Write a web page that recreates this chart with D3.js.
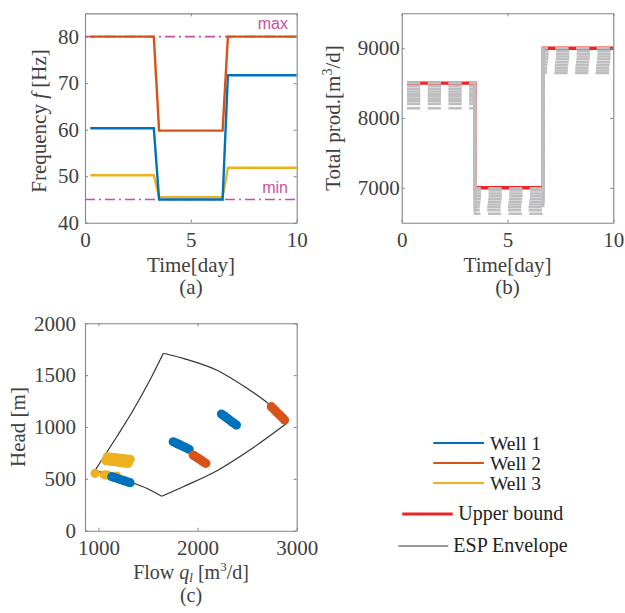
<!DOCTYPE html>
<html><head><meta charset="utf-8">
<script src="https://cdn.jsdelivr.net/npm/d3@7"></script>
<style>body{margin:0;background:#fff;} svg{display:block;}</style>
</head><body>
<svg id="chart" width="625" height="613"></svg>
<script>
// ---------------- DATA ----------------
// (a) frequencies
const timeA = [0.25, 3.25, 3.5, 6.5, 6.75, 10];
const freqWell1 = [60.3, 60.3, 45.0, 45.0, 71.7, 71.7];
const freqWell2 = [80.0, 80.0, 59.8, 59.8, 80.0, 80.0];
const freqWell3 = [50.2, 50.2, 45.5, 45.5, 51.8, 51.8];
const freqMax = 80, freqMin = 45;
const ticksA_x = [0, 5, 10];
const ticksA_y = [40, 50, 60, 70, 80];

// (b) total production
const timeB = [0.25, 3.46, 3.46, 6.69, 6.69, 10];
const upperBound = [8500, 8500, 7000, 7000, 9000, 9000];
const prodPeriod1 = [8500, 8460, 8420, 8380, 8345, 8310, 8275, 8240, 8200, 8140];
const prodPeriod2 = [6995, 6960, 6920, 6880, 6840, 6800, 6760, 6720, 6680, 6630];
const prodPeriod3 = [9000, 8960, 8920, 8880, 8840, 8800, 8760, 8720, 8680, 8645];
const ticksB_x = [0, 5, 10];
const ticksB_y = [7000, 8000, 9000];

// (c) operating points
const well1Q = [1755,1778,1801,1824,1847,1870,1893,1915, 1135,1161,1187,1213,1240,1266,1292,1319, 2241,2263,2284,2306,2327,2349,2370,2392];
const well1H = [858,848,837,827,816,806,795,785, 521,513,505,496,488,480,471,463, 1125,1110,1095,1080,1064,1049,1034,1019];
const well2Q = [2744,2763,2782,2801,2821,2840,2859,2878, 1956,1974,1992,2010,2029,2047,2065,2083];
const well2H = [1196,1178,1159,1141,1123,1105,1086,1068, 730,719,707,696,684,673,661,650];
const well3Q = [1075,1107,1139,1171,1204,1236,1268,1300, 1090,1123,1156,1189,1221,1254,1287,1320, 967,1060,1090,1185];
const well3H = [676,672,668,664,660,656,652,648, 712,709,705,702,698,695,691,688, 553,539,536,527];
// ESP envelope
const envLeftQ = [965, 1185, 1352, 1520, 1655];
const envLeftH = [580, 906, 1164, 1453, 1711];
const envTopQ = [1655, 1855, 2191, 2527, 2710, 2900];
const envTopH = [1711, 1662, 1550, 1355, 1228, 1036];
const envRightQ = [2900, 2527, 2191, 1855, 1638];
const envRightH = [1036, 778, 576, 424, 332];
const envBottomQ = [1638, 1487, 1319, 1150, 965];
const envBottomH = [332, 409, 472, 532, 580];
const ticksC_x = [1000, 2000, 3000];
const ticksC_y = [0, 500, 1000, 1500, 2000];

const legendItems = ["Well 1", "Well 2", "Well 3"];

// ---------------- STYLE ----------------
const C1 = "#0072BD", C2 = "#D95319", C3 = "#EDB120";
const RED = "#ee2424", GRAY = "#bebec1", MAG = "#c94fa0";
const AX = "#858585", TXT = "#404040";
const FONT = "'Liberation Serif', 'Times New Roman', serif";
const FS = 21;

const svg = d3.select("#chart");

function drawAxes(x, y, xt, yt, opts) {
  const g = svg.append("g");
  const [x0, x1] = x.range(), [y0, y1] = y.range();
  const tk = 3;
  const fmt = d3.format("d");
  g.append("g").attr("transform", `translate(0,${y0})`)
    .call(d3.axisBottom(x).tickValues(xt).tickFormat(fmt).tickSizeInner(-tk).tickSizeOuter(0).tickPadding(opts.xpad));
  g.append("g").attr("transform", `translate(0,${y1})`)
    .call(d3.axisTop(x).tickValues(xt).tickSizeInner(-tk).tickSizeOuter(0).tickFormat(""));
  g.append("g").attr("transform", `translate(${x0},0)`)
    .call(d3.axisLeft(y).tickValues(yt).tickFormat(fmt).tickSizeInner(-tk).tickSizeOuter(0).tickPadding(opts.ypad));
  g.append("g").attr("transform", `translate(${x1},0)`)
    .call(d3.axisRight(y).tickValues(yt).tickSizeInner(-tk).tickSizeOuter(0).tickFormat(""));
  g.selectAll(".domain").attr("stroke", AX).attr("stroke-width", 1.1);
  g.selectAll(".tick line").attr("stroke", AX).attr("stroke-width", 1);
  g.selectAll("text").attr("font-family", FONT).attr("font-size", FS).attr("fill", TXT);
  return g;
}

function label(x, y, parts, rotate, fs) {
  const t = svg.append("text").attr("font-family", FONT).attr("font-size", fs || FS).attr("fill", TXT)
    .attr("text-anchor", "middle")
    .attr("transform", `translate(${x},${y})` + (rotate ? " rotate(-90)" : ""));
  parts.forEach(p => {
    const s = t.append("tspan").text(p.t);
    if (p.i) s.attr("font-style", "italic");
    if (p.fs) s.attr("font-size", p.fs);
    if (p.dy) s.attr("dy", p.dy);
  });
  return t;
}

// ---------------- PANEL (a) ----------------
{
  const x = d3.scaleLinear().domain([0, 10]).range([85, 296.7]);
  const y = d3.scaleLinear().domain([40, 85]).range([222.7, 13.4]);
  const g = svg.append("g");
  [freqMax, freqMin].forEach(v => {
    g.append("line").attr("x1", x(0)).attr("x2", x(10)).attr("y1", y(v)).attr("y2", y(v))
      .attr("stroke", MAG).attr("stroke-width", 1.6).attr("stroke-dasharray", "10,4,2,4");
  });
  const line = d3.line().x((d, i) => x(timeA[i])).y(d => y(d));
  [[freqWell3, C3], [freqWell1, C1], [freqWell2, C2]].forEach(([s, c]) => {
    g.append("path").attr("d", line(s)).attr("fill", "none").attr("stroke", c).attr("stroke-width", 2.4);
  });
  g.append("text").attr("x", 288).attr("y", 29).attr("text-anchor", "end").attr("font-family", "'Liberation Sans', Arial, sans-serif")
    .attr("font-size", 16).attr("fill", MAG).text("max");
  g.append("text").attr("x", 288).attr("y", 193).attr("text-anchor", "end").attr("font-family", "'Liberation Sans', Arial, sans-serif")
    .attr("font-size", 16).attr("fill", MAG).text("min");
  drawAxes(x, y, ticksA_x, ticksA_y, {xpad: 9, ypad: 6});
  label(46, 121, [{t: "Frequency "}, {t: "f", i: true}, {t: " [Hz]"}], true);
  label(191, 272, [{t: "Time[day]"}]);
  label(191, 294, [{t: "(a)"}]);
}

// ---------------- PANEL (b) ----------------
{
  const x = d3.scaleLinear().domain([0, 10]).range([401.7, 613.3]);
  const y = d3.scaleLinear().domain([6500, 9500]).range([222.7, 13.3]);
  const g = svg.append("g");
  const line = d3.line().x((d, i) => x(timeB[i])).y(d => y(d));
  g.append("path").attr("d", line(upperBound)).attr("fill", "none").attr("stroke", RED).attr("stroke-width", 3.4);
  prodPeriod1.forEach((p1, k) => {
    const s = [p1, p1, prodPeriod2[k], prodPeriod2[k], prodPeriod3[k], prodPeriod3[k]];
    g.append("path").attr("d", line(s)).attr("fill", "none").attr("stroke", GRAY)
      .attr("stroke-width", 2.5).attr("stroke-dasharray", "13.3,7.4");
  });
  drawAxes(x, y, ticksB_x, ticksB_y, {xpad: 9, ypad: 2});
  label(340, 118, [{t: "Total prod.[m"}, {t: "3", fs: 14, dy: -8}, {t: "/d]", dy: 8}], true);
  label(507.5, 272, [{t: "Time[day]"}]);
  label(507.5, 294, [{t: "(b)"}]);
}

// ---------------- PANEL (c) ----------------
{
  const x = d3.scaleLinear().domain([865, 3000]).range([85, 296.7]);
  const y = d3.scaleLinear().domain([0, 2000]).range([530.7, 323.3]);
  const g = svg.append("g");
  const env = (Q, H) => d3.line().curve(d3.curveCatmullRom).x((d, i) => x(Q[i])).y((d, i) => y(H[i]))(Q);
  [[envLeftQ, envLeftH], [envTopQ, envTopH], [envRightQ, envRightH], [envBottomQ, envBottomH]].forEach(([Q, H]) => {
    g.append("path").attr("d", env(Q, H)).attr("fill", "none").attr("stroke", "#333").attr("stroke-width", 1.2);
  });
  [[well3Q, well3H, C3], [well1Q, well1H, C1], [well2Q, well2H, C2]].forEach(([Q, H, c]) => {
    g.selectAll(null).data(Q).enter().append("circle")
      .attr("cx", d => x(d)).attr("cy", (d, i) => y(H[i])).attr("r", 4.6).attr("fill", c);
  });
  drawAxes(x, y, ticksC_x, ticksC_y, {xpad: 9, ypad: 9});
  label(25, 427, [{t: "Head [m]"}], true);
  label(191, 579, [{t: "Flow "}, {t: "q", i: true}, {t: "l", i: true, fs: 13, dy: 3}, {t: " [m", dy: -3}, {t: "3", fs: 13, dy: -8}, {t: "/d]", dy: 8}], false, 20);
  label(191, 602, [{t: "(c)"}], false, 20);
}

// ---------------- LEGEND ----------------
{
  const g = svg.append("g");
  const LF = 19.5;
  const cols = [C1, C2, C3];
  const ly = [443, 463, 483];
  legendItems.forEach((name, i) => {
    g.append("line").attr("x1", 433.3).attr("x2", 484).attr("y1", ly[i]).attr("y2", ly[i])
      .attr("stroke", cols[i]).attr("stroke-width", 2.2);
    g.append("text").attr("x", 490).attr("y", ly[i] + 6.5).attr("font-family", FONT).attr("font-size", LF)
      .attr("fill", "#222").text(name);
  });
  g.append("line").attr("x1", 402.3).attr("x2", 452.7).attr("y1", 514).attr("y2", 514).attr("stroke", RED).attr("stroke-width", 3.2);
  g.append("text").attr("x", 458.3).attr("y", 519.5).attr("font-family", FONT).attr("font-size", 20).attr("fill", "#222").text("Upper bound");
  g.append("line").attr("x1", 398.3).attr("x2", 448.3).attr("y1", 546).attr("y2", 546).attr("stroke", "#777").attr("stroke-width", 1.4);
  g.append("text").attr("x", 453.3).attr("y", 551.7).attr("font-family", FONT).attr("font-size", 20).attr("fill", "#222").text("ESP Envelope");
}
</script>
</body></html>
